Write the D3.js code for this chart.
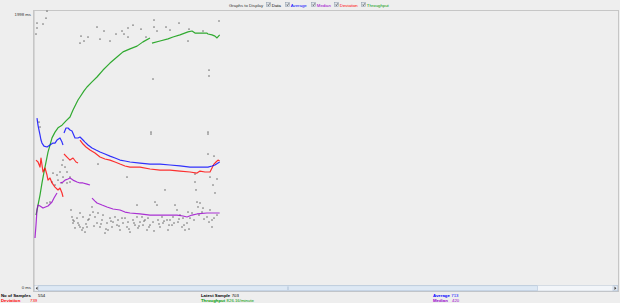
<!DOCTYPE html>
<html><head><meta charset="utf-8">
<script src="https://cdn.jsdelivr.net/npm/d3@7/dist/d3.min.js"></script>
<style>
html,body{margin:0;padding:0;background:#eeeeee;}
svg{display:block;font-family:"Liberation Sans","DejaVu Sans",sans-serif;}
</style></head>
<body><svg id="c" width="620" height="303"></svg>
<script>
// ---- data (sample number, value) ----
const yTickValues = [0, 1998];
const yTickUnit = " ms";
const legendTitle = "Graphs to Display";
const legendLabels = ["Data", "Average", "Median", "Deviation", "Throughput"];
const totalSamples = 554;
const statLabels = ["No of Samples", "Deviation", "Latest Sample", "Throughput", "Average", "Median"];
const statValues = ["554", "739", "703", "826.16/minute", "713", "420"];
const throughputMax = 905; // per minute at top of graph

const averageSeries = [[6,1217],[9,1166],[12,1130],[15,1094],[18,1057],[21,1035],[27,1013],[36,1006],[45,1021],[54,1035],[60,1035],[66,1057],[75,1072],[81,1042],[84,1021],null,
 [87,1108],[93,1145],[99,1145],[105,1130],[111,1123],[120,1072],[129,1072],[135,1079],[144,1057],[150,1042],[159,1021],[171,999],[183,984],[195,970],[210,955],[225,940],[240,926],[255,911],[270,904],[285,897],[315,889],[345,882],[375,882],[405,875],[435,868],[465,860],[495,860],[519,860],[531,868],[540,875],[549,889],[554,897]];

const deviationSeries = [[3,911],[9,897],[15,860],[18,926],[24,824],[30,853],[36,802],[39,765],[45,780],[51,744],[60,714],[69,693],[75,707],[81,671],[84,642],null,
 [87,955],[96,933],[105,911],[114,926],[123,897],[129,889],null,
 [135,1057],[144,1028],[153,1006],[165,984],[180,962],[195,933],[210,919],[225,911],[240,897],[255,882],[270,868],[285,860],[315,860],[345,846],[375,838],[405,838],[435,831],[465,824],[486,816],[495,831],[510,824],[525,824],[531,853],[537,882],[543,897],[549,911],[554,904]];

const medianSeries = [[0,343],[3,437],[6,547],[9,583],[15,576],[24,561],[39,576],[51,605],[57,634],[66,671],null,
 [75,744],[84,751],[90,765],[99,773],[105,780],[114,765],[126,751],[135,744],[144,744],[156,736],[165,729],null,
 [171,634],[180,612],[186,598],[201,583],[216,569],[234,554],[255,547],[270,532],[285,525],[315,518],[345,510],[384,510],[426,510],[444,503],[456,496],[471,510],[486,518],[516,525],[534,525],[554,525]];

const throughputSeries = [[3,231],[9,264],[15,297],[21,337],[27,373],[33,406],[39,439],[45,462],[51,486],[60,505],[69,519],[81,528],[93,542],[105,555],[114,578],[123,598],[129,611],[135,621],[147,641],[156,654],[171,671],[186,687],[204,710],[225,733],[246,753],[264,770],[285,780],[306,789],[324,803],[345,816],null,
 [351,799],[375,806],[399,813],[414,819],[435,826],[459,836],[471,839],[480,832],[501,832],[516,832],[519,829],[531,826],[540,822],[546,816],[554,826]];

const dataSamples = [[36,1997],[6,1910],[24,1903],[33,1946],[6,1874],[3,1830],[186,1881],[207,1852],[138,1815],[159,1808],[135,1764],[147,1779],[195,1793],[225,1779],[243,1830],[261,1852],[267,1830],[279,1808],[279,1874],[294,1895],[318,1866],[333,1808],[357,1932],[357,1881],[366,1852],[393,1881],[405,1859],[432,1910],[462,1866],[459,1779],[504,1852],[552,1925],[522,1567],[522,1524],[354,1502],
 [12,1188],[15,1152],[348,1115],[348,1101],[519,1115],[519,1101],[519,955],[537,940],[189,882],[276,787],[480,809],[525,787],[546,773],
 [84,911],[81,875],[90,860],[75,824],[66,802],[96,824],[84,787],[105,787],[69,765],[96,744],[105,751],[81,744],[60,729],[51,751],[54,816],[36,598],[45,605],
 [108,547],[111,496],[114,474],[114,452],[126,488],[129,452],[135,423],[141,401],[144,416],[150,386],[156,423],[135,525],[144,496],[159,474],[165,510],[120,416],
 [171,569],[174,532],[180,496],[186,452],[195,423],[201,474],[204,510],[216,452],[219,401],[225,488],[231,423],[234,459],[189,525],[210,379],
 [240,496],[246,437],[249,474],[255,401],[264,452],[270,488],[276,423],[279,459],[285,386],[294,474],[300,437],[306,496],[309,416],[315,459],[306,583],
 [321,496],[324,437],[330,474],[336,401],[339,488],[345,437],[354,459],[360,605],[366,583],[369,474],[375,423],[381,496],[384,452],[390,693],[396,474],[399,401],
 [405,474],[411,437],[414,496],[420,583],[426,547],[429,459],[435,510],[441,423],[444,488],[450,401],[456,452],[459,532],[465,488],[471,525],
 [480,751],[483,693],[486,605],[489,569],[495,598],[501,532],[504,561],[516,496],[525,547],[531,474],[534,729],[540,671],[546,510],[531,423],
 [117,466],[132,437],[153,445],[162,481],[177,430],[198,445],[213,408],[228,466],[252,430],[261,488],[282,408],[297,452],[312,430],[327,466],[342,423],[357,394],[372,445],[387,466],[402,437],[417,452],[432,481],[447,437],[462,408],[477,474],[492,510],[507,481],[522,459],[537,488]];

// ---- drawing ----
const svg = d3.select("#c");
const font = '"Liberation Sans","DejaVu Sans",sans-serif';
const colors = {Data:"#000000", Average:"#0000ff", Median:"#9900cc", Deviation:"#ff0000", Throughput:"#009900"};
const FS = 4.3;

const x = d3.scaleLinear().domain([0, 1755]).range([35, 620]);
const y = d3.scaleLinear().domain([0, 1998]).range([285, 11]);
const yT = d3.scaleLinear().domain([0, throughputMax]).range([285, 11]);

// plot frame
svg.append("rect").attr("x",33.5).attr("y",10.5).attr("width",585).attr("height",281)
  .attr("fill","#eeeeee").attr("stroke","#c6c6c6");
svg.append("line").attr("x1",34.5).attr("x2",34.5).attr("y1",11).attr("y2",291).attr("stroke","#d6d6d6");

// y axis labels
const yAxis = d3.axisLeft(y).tickValues(yTickValues).tickSize(0).tickPadding(2)
  .tickFormat(d => d + yTickUnit);
const ga = svg.append("g").attr("transform","translate(33,0)").call(yAxis);
ga.select(".domain").remove();
ga.selectAll("text").attr("font-size",FS).attr("font-family",font).attr("fill","#333")
  .attr("dy", d => d === 0 ? "0.75em" : "1em");

// data samples
svg.append("g").selectAll("rect").data(dataSamples).join("rect")
  .attr("x", d => x(d[0]) - 0.6).attr("y", d => y(d[1]) - 0.6)
  .attr("width",1.2).attr("height",1.2).attr("fill","#4a4a4a");

function drawLine(series, scale, color) {
  const line = d3.line().defined(d => d !== null).x(d => x(d[0])).y(d => scale(d[1]));
  svg.append("path").datum(series).attr("d", line).attr("fill","none")
    .attr("stroke", color).attr("stroke-width",1.2).attr("stroke-opacity",0.8)
    .attr("stroke-linejoin","round");
}
drawLine(throughputSeries, yT, colors.Throughput);
drawLine(medianSeries, y, colors.Median);
drawLine(deviationSeries, y, colors.Deviation);
drawLine(averageSeries, y, colors.Average);

// legend header
svg.append("text").attr("x",229).attr("y",6.5).attr("font-size",FS).attr("font-family",font)
  .attr("fill","#333").text(legendTitle);
const boxX = [266, 285, 311, 334, 361];
legendLabels.forEach((lab, i) => {
  const g = svg.append("g");
  g.append("rect").attr("x", boxX[i]+0.5).attr("y",2.5).attr("width",4).attr("height",4)
    .attr("fill","#dfe4ea").attr("stroke","#8a99aa").attr("stroke-width",0.5);
  g.append("path").attr("d",`M${boxX[i]+1.4},4.6 L${boxX[i]+2.4},5.7 L${boxX[i]+3.8},3.3`)
    .attr("fill","none").attr("stroke","#333").attr("stroke-width",0.6);
  g.append("text").attr("x", boxX[i]+5.8).attr("y",6.5).attr("font-size",FS).attr("font-family",font)
    .attr("fill", colors[lab]).text(lab);
});

// scrollbar
svg.append("rect").attr("x",34.5).attr("y",285.5).attr("width",583).attr("height",5.5)
  .attr("fill","#f2f5f9").attr("stroke","#b8c4d2").attr("stroke-width",0.5);
svg.append("rect").attr("x",38.5).attr("y",285.8).attr("width",499).attr("height",5)
  .attr("fill","#dde8f4").attr("stroke","#a9bdd6").attr("stroke-width",0.5);
svg.append("line").attr("x1",288).attr("x2",288).attr("y1",286.5).attr("y2",290).attr("stroke","#8ea6c2").attr("stroke-width",0.6);
svg.append("path").attr("d","M37.5,286.6 L37.5,290 L35.8,288.3 Z").attr("fill","#333");
svg.append("rect").attr("x",613).attr("y",285.8).attr("width",4.8).attr("height",5).attr("fill","#e6ebf1").attr("stroke","#a9bdd6").attr("stroke-width",0.5);
svg.append("path").attr("d","M614.5,286.6 L614.5,290 L616.3,288.3 Z").attr("fill","#333");

// stats
const statPos = [
  {lx:1, vx:38, y:296.8, c:"#000"},
  {lx:1, vx:30, y:301.8, c:colors.Deviation},
  {lx:201, vx:229, y:296.8, c:"#000"},
  {lx:201, vx:220, y:301.8, c:colors.Throughput},
  {lx:433, vx:451, y:296.8, c:colors.Average},
  {lx:433, vx:452, y:301.8, c:colors.Median}
];
statLabels.forEach((lab, i) => {
  const p = statPos[i];
  const t = svg.append("text").attr("x",p.lx).attr("y",p.y).attr("font-size",FS).attr("font-family",font)
    .attr("font-weight","bold").attr("fill",p.c).text(lab);
  const end = p.lx + t.node().getComputedTextLength();
  svg.append("text").attr("x", Math.max(p.vx, end + 1.5)).attr("y",p.y).attr("font-size",FS).attr("font-family",font)
    .attr("fill",p.c).text(statValues[i]);
});
</script></body></html>
